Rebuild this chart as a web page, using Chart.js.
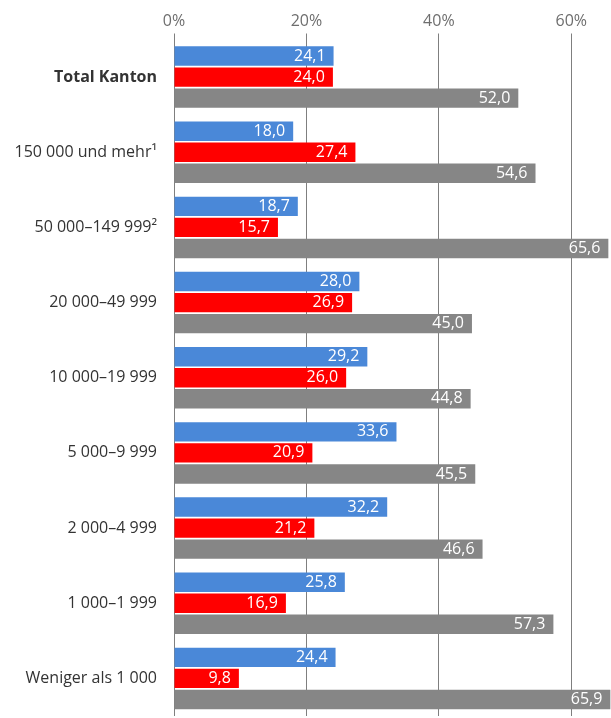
<!DOCTYPE html>
<html>
<head>
<meta charset="utf-8">
<script src="https://cdn.jsdelivr.net/npm/chart.js@4/dist/chart.umd.min.js"></script>
<style>
  html, body { margin: 0; padding: 0; background: #fff; overflow: hidden; }
</style>
</head>
<body>
<canvas id="chart" width="611" height="718"></canvas>
<script>
const categories = [
  'Total Kanton', '150 000 und mehr¹', '50 000–149 999²', '20 000–49 999',
  '10 000–19 999', '5 000–9 999', '2 000–4 999', '1 000–1 999', 'Weniger als 1 000'
];
const blueValues = [24.1, 18.0, 18.7, 28.0, 29.2, 33.6, 32.2, 25.8, 24.4];
const redValues  = [24.0, 27.4, 15.7, 26.9, 26.0, 20.9, 21.2, 16.9, 9.8];
const greyValues = [52.0, 54.6, 65.6, 45.0, 44.8, 45.5, 46.6, 57.3, 65.9];
const xTicks = [0, 20, 40, 60];

// Werte weiss am Balkenende
const barLabels = {
  id: 'barLabels',
  afterDatasetsDraw(chart) {
    const ctx = chart.ctx;
    ctx.save();
    ctx.font = '16px "Open Sans"';
    ctx.fillStyle = '#ffffff';
    ctx.textAlign = 'right';
    ctx.textBaseline = 'middle';
    chart.data.datasets.forEach((ds, i) => {
      chart.getDatasetMeta(i).data.forEach((bar, j) => {
        const txt = ds.data[j].toFixed(1).replace('.', ',');
        ctx.fillText(txt, bar.x - 8, bar.y);
      });
    });
    ctx.restore();
  }
};

const common = { categoryPercentage: 0.84, barPercentage: 0.92 };

new Chart(document.getElementById('chart'), {
  type: 'bar',
  data: {
    labels: categories,
    datasets: [
      { label: 'A', data: blueValues, backgroundColor: '#4a88d8', ...common },
      { label: 'B', data: redValues, backgroundColor: '#ff0000', ...common },
      { label: 'C', data: greyValues, backgroundColor: '#868686', ...common }
    ]
  },
  options: {
    indexAxis: 'y',
    responsive: false,
    animation: false,
    layout: { padding: { top: 0, right: 0, bottom: 2, left: 0 } },
    plugins: {
      legend: { display: false },
      tooltip: { enabled: false }
    },
    scales: {
      x: {
        position: 'top',
        min: 0,
        max: 66,
        afterBuildTicks: axis => {
          axis.ticks = xTicks.map(v => ({ value: v }));
        },
        afterFit: axis => { axis.height = 39.5; },
        border: { display: false },
        grid: { color: '#7f7f7f', lineWidth: 1, tickLength: 6 },
        ticks: {
          color: '#6e6e6e',
          font: { family: '"Open Sans"', size: 16 },
          padding: 2,
          callback: v => v + '%'
        }
      },
      y: {
        afterFit: axis => {
          axis.width = 174;
          axis.paddingTop = 0;
          axis.paddingBottom = 0;
        },
        border: { display: false },
        grid: { display: false, drawTicks: false },
        ticks: {
          color: '#333333',
          padding: 17,
          font: ctx => ({
            family: '"Open Sans"',
            size: 16,
            weight: ctx.index === 0 ? 'bold' : 'normal'
          })
        }
      }
    }
  },
  plugins: [barLabels]
});
</script>
</body>
</html>
